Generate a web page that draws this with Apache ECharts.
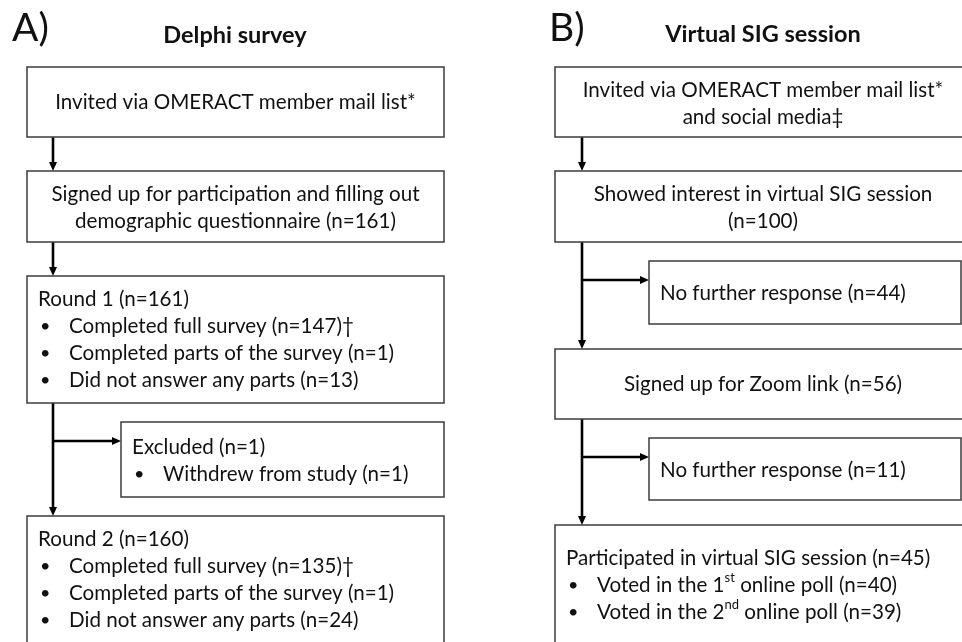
<!DOCTYPE html>
<html>
<head>
<meta charset="utf-8">
<script src="https://cdn.jsdelivr.net/npm/echarts@6/dist/echarts.min.js"></script>
<style>
  html, body { margin: 0; padding: 0; background: #fff; }
  #chart { width: 962px; height: 642px; }
</style>
</head>
<body>
<div id="chart"></div>
<script>
const panelLetters = ["A)", "B)"];
const panelTitles = ["Delphi survey", "Virtual SIG session"];

// box extents in diagram units [x0, y0, x1, y1]
const delphiBoxes = [
  [27, 67, 444, 137],
  [27, 171, 444, 242],
  [27, 276, 444, 403],
  [121, 422, 444, 497],
  [27, 516, 444, 660],
];
const delphiAlign = ["center", "center", "left", "left", "left"];
const delphiFirstLine = [102, 194, 299, 447, 539];
const delphiText = [
  ["Invited via OMERACT member mail list*"],
  ["Signed up for participation and filling out", "demographic questionnaire (n=161)"],
  ["Round 1 (n=161)", "• Completed full survey (n=147)†", "• Completed parts of the survey (n=1)", "• Did not answer any parts (n=13)"],
  ["Excluded (n=1)", "• Withdrew from study (n=1)"],
  ["Round 2 (n=160)", "• Completed full survey (n=135)†", "• Completed parts of the survey (n=1)", "• Did not answer any parts (n=24)"],
];

const sigBoxes = [
  [555, 67, 971, 137],
  [555, 171, 971, 242],
  [649, 261, 961, 324],
  [555, 349, 971, 419],
  [649, 438, 961, 500],
  [555, 525, 971, 660],
];
const sigAlign = ["center", "center", "left", "center", "left", "left"];
const sigFirstLine = [90, 194, 293, 384, 470, 558];
const sigText = [
  ["Invited via OMERACT member mail list*", "and social media‡"],
  ["Showed interest in virtual SIG session", "(n=100)"],
  ["No further response (n=44)"],
  ["Signed up for Zoom link (n=56)"],
  ["No further response (n=11)"],
  ["Participated in virtual SIG session (n=45)", "• Voted in the 1{s|st} online poll (n=40)", "• Voted in the 2{s|nd} online poll (n=39)"],
];

// connectors: polylines ending in an arrow head
const delphiArrows = [
  [[53, 137], [53, 171]],
  [[53, 242], [53, 276]],
  [[53, 403], [53, 516]],
  [[53, 441], [121, 441]],
];
const sigArrows = [
  [[582, 137], [582, 171]],
  [[582, 242], [582, 349]],
  [[582, 280], [649, 280]],
  [[582, 419], [582, 525]],
  [[582, 457], [649, 457]],
];

const boxes = delphiBoxes.concat(sigBoxes);
const aligns = delphiAlign.concat(sigAlign);
const firstLines = delphiFirstLine.concat(sigFirstLine);
const texts = delphiText.concat(sigText);
const arrows = delphiArrows.concat(sigArrows);

const FONT = "Lato, 'Noto Sans', sans-serif";
const LINE_H = 27;

function renderBox(params, api) {
  const i = params.dataIndex;
  const b = boxes[i];
  const p0 = api.coord([b[0], b[1]]);
  const p1 = api.coord([b[2], b[3]]);
  const children = [{
    type: "rect",
    shape: { x: p0[0], y: p0[1], width: p1[0] - p0[0], height: p1[1] - p0[1] },
    style: { fill: "#fff", stroke: "#3c3c3c", lineWidth: 1.5 },
  }];
  texts[i].forEach((line, j) => {
    const y = api.coord([0, firstLines[i] + j * LINE_H])[1];
    const baseStyle = {
      fill: "#111",
      fontFamily: FONT,
      fontSize: 20.6,
      lineHeight: LINE_H,
      verticalAlign: "middle",
      rich: { s: { fontSize: 13, fontFamily: FONT, fill: "#111", verticalAlign: "top" } },
    };
    if (aligns[i] === "center") {
      const cx = (p0[0] + p1[0]) / 2;
      children.push({ type: "text", x: cx, y: y, style: Object.assign({ text: line, align: "center" }, baseStyle) });
    } else if (line.startsWith("• ")) {
      children.push({ type: "text", x: p0[0] + 13, y: y, style: Object.assign({ text: "•", align: "left" }, baseStyle, { fontSize: 18 }) });
      children.push({ type: "text", x: p0[0] + 42, y: y, style: Object.assign({ text: line.slice(2), align: "left" }, baseStyle) });
    } else {
      children.push({ type: "text", x: p0[0] + 11, y: y, style: Object.assign({ text: line, align: "left" }, baseStyle) });
    }
  });
  return { type: "group", children: children };
}

function renderArrow(params, api) {
  const pts = arrows[params.dataIndex].map((p) => api.coord(p));
  const a = pts[pts.length - 2];
  const e = pts[pts.length - 1];
  const len = Math.hypot(e[0] - a[0], e[1] - a[1]);
  const ux = (e[0] - a[0]) / len, uy = (e[1] - a[1]) / len;
  const headL = 9, headW = 4;
  const base = [e[0] - ux * headL, e[1] - uy * headL];
  const shaft = pts.slice(0, -1).concat([base]);
  return {
    type: "group",
    children: [
      { type: "polyline", shape: { points: shaft }, style: { stroke: "#000", lineWidth: 2.6, fill: null } },
      {
        type: "polygon",
        shape: { points: [e, [base[0] - uy * headW, base[1] + ux * headW], [base[0] + uy * headW, base[1] - ux * headW]] },
        style: { fill: "#000" },
      },
    ],
  };
}

const chart = echarts.init(document.getElementById("chart"));
chart.setOption({
  animation: false,
  backgroundColor: "#fff",
  grid: { left: 0, right: 0, top: 0, bottom: 0 },
  xAxis: { type: "value", min: 0, max: 962, show: false },
  yAxis: { type: "value", min: 0, max: 642, inverse: true, show: false },
  graphic: [
    { type: "text", x: 12, y: 28, style: { text: panelLetters[0], fontFamily: FONT, fontSize: 39, fill: "#111", align: "left", verticalAlign: "middle" } },
    { type: "text", x: 549, y: 28, style: { text: panelLetters[1], fontFamily: FONT, fontSize: 39, fill: "#111", align: "left", verticalAlign: "middle" } },
    { type: "text", x: 235, y: 35, style: { text: panelTitles[0], fontFamily: FONT, fontWeight: "bold", fontSize: 23.5, fill: "#111", align: "center", verticalAlign: "middle" } },
    { type: "text", x: 763, y: 34, style: { text: panelTitles[1], fontFamily: FONT, fontWeight: "bold", fontSize: 23.5, fill: "#111", align: "center", verticalAlign: "middle" } },
  ],
  series: [
    {
      type: "custom",
      renderItem: renderArrow,
      data: arrows.map((a, i) => [a[0][0], a[0][1], i]),
      silent: true,
    },
    {
      type: "custom",
      renderItem: renderBox,
      data: boxes.map((b, i) => [b[0], b[1], i]),
      silent: true,
    },
  ],
});
</script>
</body>
</html>
